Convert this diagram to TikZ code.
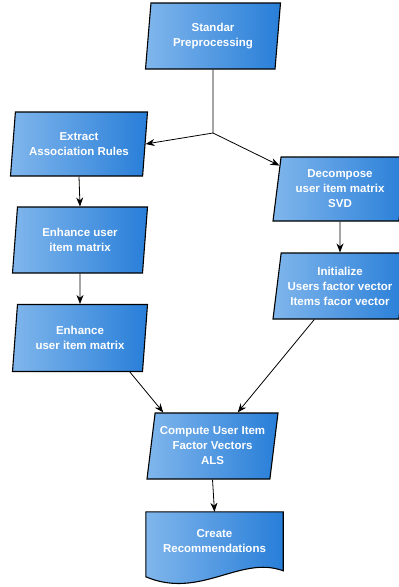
\documentclass[tikz,border=0pt]{standalone}
\usepackage{fontspec}
\setmainfont{Liberation Sans}
\usepackage{tikz}
\usetikzlibrary{shapes.geometric, arrows.meta, calc, backgrounds}
\definecolor{flowlight}{RGB}{128,182,236}
\definecolor{flowdark}{RGB}{40,126,216}
\tikzstyle{io} = [trapezium, trapezium left angle=78, trapezium right angle=102, trapezium stretches body, minimum width=135, minimum height=66, inner sep=0pt, align=center, text=white, font=\fontsize{11.5}{15}\selectfont\bfseries, draw=black, line width=1.1pt, left color=flowlight, right color=flowdark]
\tikzstyle{doc} = [rectangle, minimum width=137, minimum height=58, inner sep=0pt, align=center, text=white, font=\fontsize{11.5}{15}\selectfont\bfseries]
\tikzstyle{arrow} = [line width=0.8pt, -{Stealth[length=9pt,width=7pt]}]

\begin{document}
\begin{tikzpicture}[x=1pt, y=-1pt]
            \useasboundingbox (0,0) rectangle (399,587);
            \node[io] (std) at (213,36) {Standar\\Preprocessing};
            \node[io, minimum width=137, minimum height=64] (extract) at (79,144) {Extract\\Association Rules};
            \node[io] (enhone) at (80,240) {Enhance user\\item matrix};
            \node[io, minimum height=67] (enhtwo) at (80,338) {Enhance\\user item matrix};
            \node[io, minimum width=134, minimum height=64] (decompose) at (340,189) {Decompose\\user item matrix\\SVD};
            \node[io, minimum width=134] (init) at (340,286) {Initialize\\Users factor vector\\Items facor vector};
            \node[io, minimum width=131] (compute) at (212.5,446) {Compute User Item\\Factor Vectors\\ALS};
            \node[doc] (create) at (214.5,541) {Create\\Recommendations};
            \coordinate (split) at (213,133);

            \begin{scope}[on background layer]
            \path[draw=black, line width=1.1pt, left color=flowlight, right color=flowdark]
                (create.north west) -- (create.north east) -- ($(create.north east)+(0,59)$)
                .. controls ($(create.north east)+(-43,43)$) and ($(create.north east)+(-83,88)$) .. ($(create.north west)+(0,65)$) -- cycle;
            \end{scope}

            \draw[line width=0.8pt] (std.south) -- (split);
            \draw[arrow] (split) -- (extract.east);
            \draw[arrow] (split) -- ($(decompose.top left corner)!0.14!(decompose.bottom left corner)$);
            \draw[arrow] (extract.south) -- (enhone.north);
            \draw[arrow] (enhone.south) -- (enhtwo.north);
            \draw[arrow] (decompose.south) -- (init.north);
            \draw[arrow] ($(enhtwo.bottom left corner)!0.9!(enhtwo.bottom right corner)$) -- ($(compute.top left corner)!0.07!(compute.top right corner)$);
            \draw[arrow] ($(init.bottom left corner)!0.33!(init.bottom right corner)$) -- ($(compute.top left corner)!0.67!(compute.top right corner)$);
            \draw[arrow] (compute.south) -- (create.north);
            \end{tikzpicture}
\end{document}
